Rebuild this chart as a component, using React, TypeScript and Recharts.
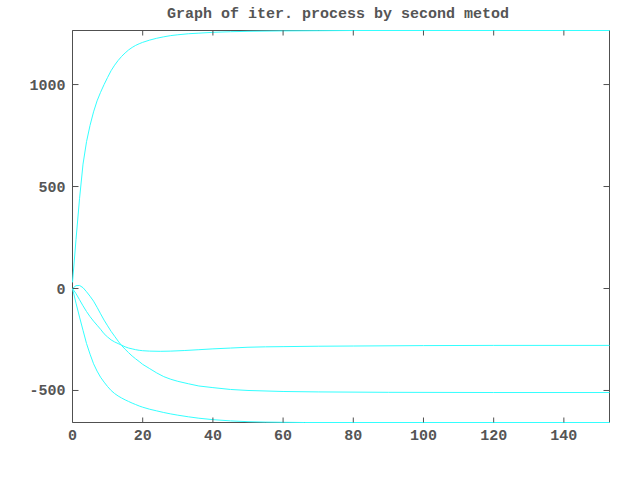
import React from "react";
import { LineChart, Line, XAxis, YAxis } from "recharts";

const TITLE = "Graph of iter. process by second metod";
const X_TICKS = [0, 20, 40, 60, 80, 100, 120, 140];
const Y_TICKS = [-500, 0, 500, 1000];
const X_DOMAIN: [number, number] = [0, 153];
const Y_DOMAIN: [number, number] = [-657, 1265];

const seriesTop = [
  { x: 0, y: 30 }, { x: 1, y: 240 }, { x: 2, y: 440 }, { x: 3, y: 610 }, { x: 4, y: 720 },
  { x: 5, y: 800 }, { x: 6, y: 866 }, { x: 7, y: 920 }, { x: 8, y: 962 }, { x: 9, y: 1000 },
  { x: 10, y: 1035 }, { x: 11, y: 1068 }, { x: 12, y: 1095 }, { x: 13, y: 1118 }, { x: 14, y: 1138 },
  { x: 15, y: 1155 }, { x: 16, y: 1170 }, { x: 17, y: 1182 }, { x: 18, y: 1192 }, { x: 19, y: 1200 },
  { x: 20, y: 1207 }, { x: 22, y: 1218 }, { x: 24, y: 1227 }, { x: 26, y: 1234 }, { x: 28, y: 1240 },
  { x: 30, y: 1244 }, { x: 33, y: 1249 }, { x: 36, y: 1252 }, { x: 40, y: 1256 }, { x: 45, y: 1259 },
  { x: 50, y: 1261 }, { x: 60, y: 1263 }, { x: 70, y: 1264 }, { x: 80, y: 1265 }, { x: 153, y: 1265 },
];

const seriesBump = [
  { x: 0, y: 0 }, { x: 1, y: 14 }, { x: 2, y: 15 }, { x: 3, y: 4 }, { x: 4, y: -16 },
  { x: 5, y: -38 }, { x: 6, y: -62 }, { x: 7, y: -92 }, { x: 8, y: -124 }, { x: 9, y: -155 },
  { x: 10, y: -183 }, { x: 11, y: -210 }, { x: 12, y: -234 }, { x: 13, y: -258 }, { x: 14, y: -280 },
  { x: 15, y: -298 }, { x: 16, y: -315 }, { x: 17, y: -331 }, { x: 18, y: -345 }, { x: 19, y: -358 },
  { x: 20, y: -372 }, { x: 22, y: -393 }, { x: 24, y: -414 }, { x: 26, y: -432 }, { x: 28, y: -445 },
  { x: 30, y: -455 }, { x: 33, y: -467 }, { x: 36, y: -478 }, { x: 40, y: -486 }, { x: 45, y: -495 },
  { x: 50, y: -500 }, { x: 60, y: -505 }, { x: 70, y: -507 }, { x: 90, y: -509 }, { x: 120, y: -510 },
  { x: 153, y: -510 },
];

const seriesMid = [
  { x: 0, y: 0 }, { x: 1, y: -25 }, { x: 2, y: -55 }, { x: 3, y: -85 }, { x: 4, y: -113 },
  { x: 5, y: -138 }, { x: 6, y: -160 }, { x: 7, y: -180 }, { x: 8, y: -200 }, { x: 9, y: -222 },
  { x: 10, y: -238 }, { x: 11, y: -252 }, { x: 12, y: -262 }, { x: 13, y: -270 }, { x: 14, y: -278 },
  { x: 15, y: -286 }, { x: 16, y: -292 }, { x: 17, y: -296 }, { x: 18, y: -300 }, { x: 19, y: -303 },
  { x: 20, y: -305 }, { x: 22, y: -307 }, { x: 25, y: -308 }, { x: 28, y: -307 }, { x: 32, y: -304 },
  { x: 36, y: -300 }, { x: 40, y: -296 }, { x: 45, y: -292 }, { x: 50, y: -288 }, { x: 55, y: -286 },
  { x: 60, y: -285 }, { x: 70, y: -283 }, { x: 80, y: -282 }, { x: 100, y: -280 }, { x: 120, y: -279 },
  { x: 153, y: -279 },
];

const seriesLow = [
  { x: 0, y: 0 }, { x: 1, y: -72 }, { x: 2, y: -140 }, { x: 3, y: -205 }, { x: 4, y: -270 },
  { x: 5, y: -322 }, { x: 6, y: -369 }, { x: 7, y: -405 }, { x: 8, y: -435 }, { x: 9, y: -459 },
  { x: 10, y: -481 }, { x: 11, y: -500 }, { x: 12, y: -515 }, { x: 13, y: -527 }, { x: 14, y: -537 },
  { x: 15, y: -546 }, { x: 16, y: -554 }, { x: 17, y: -562 }, { x: 18, y: -569 }, { x: 19, y: -576 },
  { x: 20, y: -582 }, { x: 22, y: -592 }, { x: 24, y: -600 }, { x: 26, y: -608 }, { x: 28, y: -615 },
  { x: 30, y: -621 }, { x: 33, y: -629 }, { x: 36, y: -636 }, { x: 40, y: -643 }, { x: 45, y: -649 },
  { x: 50, y: -653 }, { x: 55, y: -655 }, { x: 60, y: -656 }, { x: 66, y: -657 }, { x: 153, y: -657 },
];

const SERIES = [seriesTop, seriesBump, seriesMid, seriesLow];

const AXIS = "#505050";
const TEXT = "#555555";
const LINE = "#33ffff";
const FONT = "'Liberation Mono', 'DejaVu Sans Mono', monospace";

const renderBottomTick = (props: any) => {
  const x = Number(props.x);
  const y = Number(props.y);
  return (
    <g key={`b-${props.index}`}>
      <path d={`M${x},${y}V${y - 5}`} stroke={AXIS} strokeWidth={1} fill="none" />
      <text x={x} y={y + 17} textAnchor="middle" fill={TEXT} fontFamily={FONT} fontSize={15} fontWeight="bold">
        {props.payload.value}
      </text>
    </g>
  );
};

const renderTopTick = (props: any) => {
  const x = Number(props.x);
  const y = Number(props.y);
  return <path key={`t-${props.index}`} d={`M${x},${y}V${y + 5}`} stroke={AXIS} strokeWidth={1} fill="none" />;
};

const renderLeftTick = (props: any) => {
  const x = Number(props.x);
  const y = Number(props.y);
  return (
    <g key={`l-${props.index}`}>
      <path d={`M${x},${y}H${x + 6}`} stroke={AXIS} strokeWidth={1} fill="none" />
      <text x={x - 7} y={y + 5} textAnchor="end" fill={TEXT} fontFamily={FONT} fontSize={15} fontWeight="bold">
        {props.payload.value}
      </text>
    </g>
  );
};

const renderRightTick = (props: any) => {
  const x = Number(props.x);
  const y = Number(props.y);
  return <path key={`r-${props.index}`} d={`M${x},${y}H${x - 6}`} stroke={AXIS} strokeWidth={1} fill="none" />;
};

export default function App() {
  const lineExtra: any = { zIndex: 900 };
  return (
    <div style={{ position: "absolute", left: 0, top: 0, width: 640, height: 480, background: "#fff" }}>
      <svg width={640} height={30} style={{ position: "absolute", left: 0, top: 0 }}>
        <text x={338} y={18} textAnchor="middle" fill={TEXT} fontFamily={FONT} fontSize={15} fontWeight="bold">
          {TITLE}
        </text>
      </svg>
      <div style={{ position: "absolute", left: 0, top: 0 }}>
        <LineChart width={640} height={480} margin={{ top: 29.5, right: 29.5, bottom: 0, left: 0 }}>
          <XAxis
            type="number"
            dataKey="x"
            domain={X_DOMAIN}
            ticks={X_TICKS}
            height={57.5}
            tickLine={false}
            tickSize={0}
            tickMargin={0}
            axisLine={{ stroke: AXIS, strokeWidth: 1 }}
            tick={renderBottomTick}
            interval={0}
          />
          <XAxis
            xAxisId="top"
            orientation="top"
            type="number"
            dataKey="x"
            domain={X_DOMAIN}
            ticks={X_TICKS}
            height={1}
            tickLine={false}
            tickSize={0}
            tickMargin={0}
            axisLine={{ stroke: AXIS, strokeWidth: 1 }}
            tick={renderTopTick}
            interval={0}
          />
          <YAxis
            type="number"
            dataKey="y"
            domain={Y_DOMAIN}
            ticks={Y_TICKS}
            width={72.5}
            tickLine={false}
            tickSize={0}
            tickMargin={0}
            axisLine={{ stroke: AXIS, strokeWidth: 1 }}
            tick={renderLeftTick}
            interval={0}
          />
          <YAxis
            yAxisId="right"
            orientation="right"
            type="number"
            dataKey="y"
            domain={Y_DOMAIN}
            ticks={Y_TICKS}
            width={1}
            tickLine={false}
            tickSize={0}
            tickMargin={0}
            axisLine={{ stroke: AXIS, strokeWidth: 1 }}
            tick={renderRightTick}
            interval={0}
          />
          <Line
            xAxisId="top"
            yAxisId="right"
            data={seriesTop}
            dataKey="y"
            stroke="none"
            dot={false}
            activeDot={false}
            legendType="none"
            isAnimationActive={false}
          />
          {SERIES.map((s, i) => (
            <Line
              key={i}
              data={s}
              dataKey="y"
              type="linear"
              stroke={LINE}
              strokeWidth={1}
              dot={false}
              activeDot={false}
              isAnimationActive={false}
              {...lineExtra}
            />
          ))}
        </LineChart>
      </div>
    </div>
  );
}
